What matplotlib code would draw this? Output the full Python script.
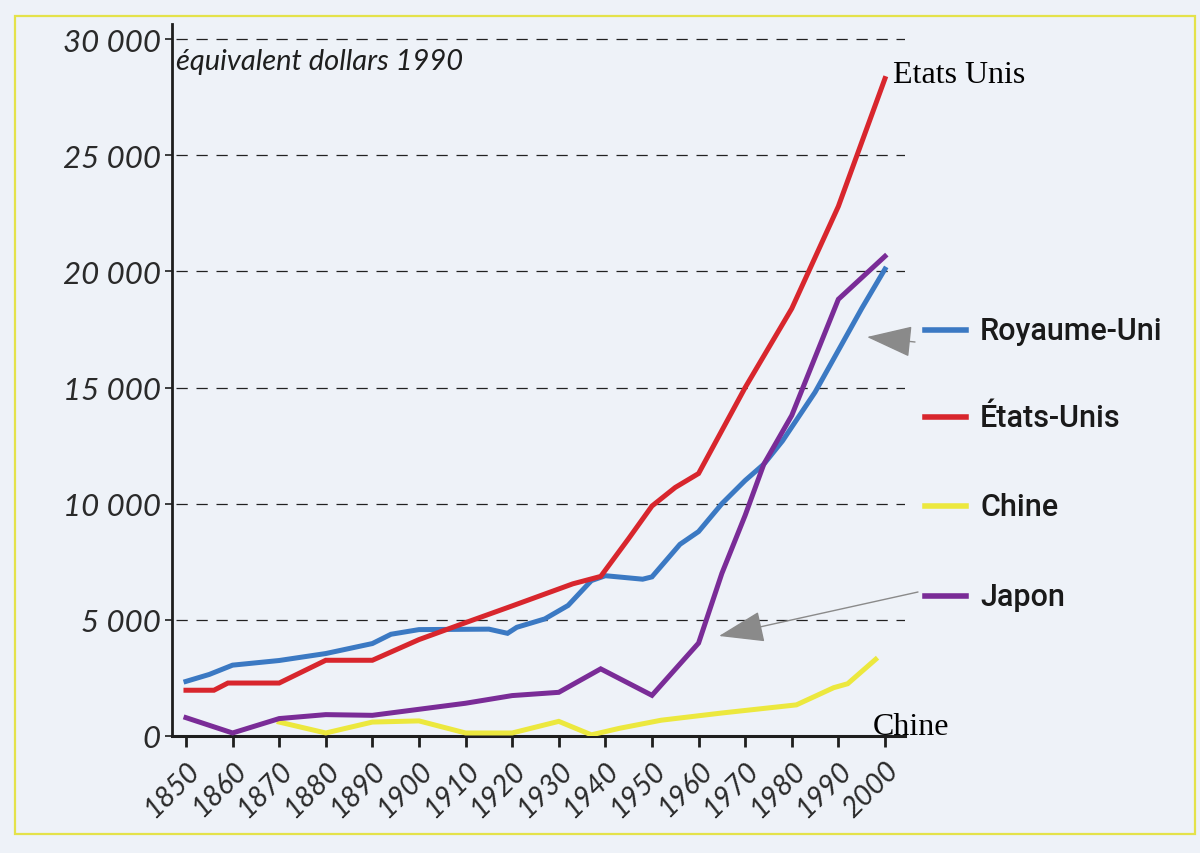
import matplotlib
matplotlib.use('Agg')
import matplotlib.pyplot as plt
from matplotlib.patches import Rectangle, FancyArrowPatch
from matplotlib.lines import Line2D

W, H = 1200, 854


def fp(x, y):
    # pixel position of the picture -> figure fraction
    return x / W, 1 - y / H


# PIB par habitant, équivalent dollars 1990
uk_years = [1850, 1855, 1860, 1870, 1880, 1890, 1894, 1900, 1915, 1919, 1921, 1927,
            1932, 1937, 1940, 1948, 1950, 1956, 1960, 1965, 1970, 1974, 1978, 1985,
            1990, 1995, 2000]
uk_vals = [2350, 2650, 3050, 3250, 3550, 3980, 4380, 4580, 4600, 4420, 4680, 5040,
           5620, 6690, 6900, 6750, 6850, 8250, 8800, 10000, 11000, 11700, 12700, 14800,
           16600, 18400, 20100]

us_years = [1850, 1856, 1859, 1870, 1880, 1890, 1900, 1910, 1920, 1930, 1933, 1939,
            1945, 1950, 1955, 1960, 1970, 1980, 1990, 2000]
us_vals = [1970, 1970, 2280, 2280, 3260, 3260, 4150, 4880, 5600, 6330, 6550, 6870,
           8500, 9900, 10700, 11300, 15000, 18400, 22800, 28300]

jp_years = [1850, 1860, 1870, 1880, 1890, 1900, 1910, 1920, 1930, 1939, 1950, 1960,
            1965, 1970, 1974, 1980, 1985, 1990, 2000]
jp_vals = [790, 130, 750, 920, 890, 1150, 1410, 1740, 1880, 2890, 1750, 4000,
           7000, 9500, 11700, 13800, 16300, 18800, 20650]

cn_years = [1870, 1880, 1890, 1900, 1910, 1920, 1930, 1937, 1943, 1952, 1965, 1981,
            1989, 1992, 1998]
cn_vals = [600, 130, 600, 650, 130, 130, 630, 50, 330, 680, 990, 1340,
           2080, 2250, 3300]

x_ticks = list(range(1850, 2001, 10))
y_ticks = [0, 5000, 10000, 15000, 20000, 25000, 30000]
y_labels = ['0', '5 000', '10 000', '15 000', '20 000', '25 000', '30 000']

legend_names = ['Royaume-Uni', 'États-Unis', 'Chine', 'Japon']
legend_y = [331, 418, 507, 597]

c_uk = '#3b79c3'
c_us = '#d8262d'
c_cn = '#ece83e'
c_jp = '#7a2c97'
legend_cols = [c_uk, c_us, c_cn, c_jp]

fig = plt.figure(figsize=(12, 8.54), dpi=100, facecolor='#eef2f8')

# cadre jaune
fig.patches.append(Rectangle(fp(15, 835), 1180 / W, 818 / H, transform=fig.transFigure,
                             fill=False, edgecolor='#e4e24a', lw=1.6, zorder=0))

ax = fig.add_axes([172 / W, 1 - 737 / H, 733 / W, 712 / H])
ax.set_facecolor('none')
ax.set_xlim(1847, 2004.3)
ax.set_ylim(0, 30650)

for v in y_ticks[1:]:
    ax.axhline(v, xmin=4 / 733, xmax=1, color='#222222', lw=0.9,
               dashes=(9, 7), zorder=1)

ax.plot(cn_years, cn_vals, color=c_cn, lw=3.6, zorder=3, solid_joinstyle='miter')
ax.plot(uk_years, uk_vals, color=c_uk, lw=3.6, zorder=4, solid_joinstyle='miter')
ax.plot(us_years, us_vals, color=c_us, lw=3.6, zorder=5, solid_joinstyle='miter')
ax.plot(jp_years, jp_vals, color=c_jp, lw=3.6, zorder=6, solid_joinstyle='miter')

for s in ['top', 'right']:
    ax.spines[s].set_visible(False)
ax.spines['left'].set_linewidth(2.0)
ax.spines['bottom'].set_linewidth(2.2)
ax.spines['left'].set_color('#1e1e1e')
ax.spines['bottom'].set_color('#1e1e1e')

ax.set_yticks(y_ticks)
ax.set_yticklabels(y_labels, family='Lato', style='italic', size=22.5, color='#2a2a2a')
ax.set_xticks(x_ticks)
ax.set_xticklabels([str(t) for t in x_ticks], rotation=45, ha='right', va='top',
                   rotation_mode='anchor', family='Lato', style='italic', size=20.5,
                   color='#2a2a2a')
ax.tick_params(axis='y', length=5, width=1.2, pad=3, color='#1e1e1e')
ax.tick_params(axis='x', length=8, width=2.0, pad=7, color='#1e1e1e')

fig.text(*fp(176, 62), 'équivalent dollars 1990', family='Lato', style='italic',
         size=21, color='#1e1e1e', va='center', ha='left')

# légende à droite
for name, yy, col in zip(legend_names, legend_y, legend_cols):
    fig.lines.append(Line2D([925 / W, 966 / W], [1 - yy / H, 1 - yy / H],
                            transform=fig.transFigure, color=col, lw=4.0))
    fig.text(*fp(980, yy + 1), name, family='Roboto', weight='medium', size=22,
             color='#1a1a1a', va='center', ha='left')

# étiquettes ajoutées
fig.text(*fp(893, 83), 'Etats Unis', family='Liberation Serif', size=23,
         color='black', va='baseline', ha='left')
fig.text(*fp(873, 735), 'Chine', family='Liberation Serif', size=23,
         color='black', va='baseline', ha='left')

# flèches grises
for tail, tip in [((915, 343), (867, 338)), ((918, 593), (719, 637))]:
    arr = FancyArrowPatch(fp(*tail), fp(*tip), transform=fig.transFigure,
                          arrowstyle='-|>,head_length=1.45,head_width=0.5',
                          mutation_scale=20, color='#8a8a8a', lw=1.0,
                          shrinkA=0, shrinkB=0)
    fig.patches.append(arr)

fig.savefig('out.png', dpi=100, facecolor=fig.get_facecolor())
